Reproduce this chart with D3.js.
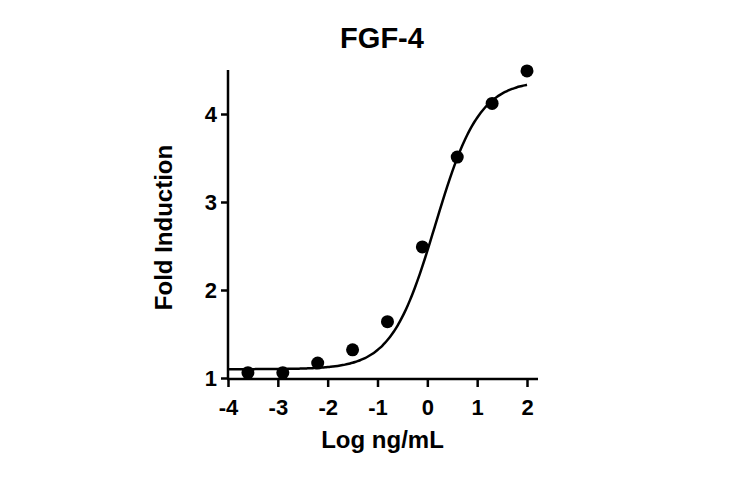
<!DOCTYPE html>
<html>
<head>
<meta charset="utf-8">
<script src="https://cdn.jsdelivr.net/npm/d3@7/dist/d3.min.js"></script>
<style>
  html, body { margin: 0; padding: 0; background: #fff; }
  svg text { font-family: "Liberation Sans", Arial, sans-serif; font-weight: bold; fill: #000; }
  .axis text { font-size: 22px; }
</style>
</head>
<body>
<svg id="chart" width="730" height="478"></svg>
<script>
// Data
const titleText = "FGF-4";
const xLabel = "Log ng/mL";
const yLabel = "Fold Induction";
const logDose = [-3.6, -2.9, -2.2, -1.5, -0.8, -0.1, 0.6, 1.3, 2.0];
const foldInduction = [1.06, 1.06, 1.17, 1.32, 1.64, 2.49, 3.51, 4.12, 4.49];
const xTicks = [-4, -3, -2, -1, 0, 1, 2];
const yTicks = [1, 2, 3, 4];
// 4PL fit parameters (bottom, top, logEC50, hill)
const fitBottom = 1.1, fitTop = 4.38, fitLogEC50 = 0.16, fitHill = 0.99;

const svg = d3.select("#chart");
const x = d3.scaleLinear().domain([-4, 2]).range([228, 527]);
const y = d3.scaleLinear().domain([1, 4.5]).range([378, 70]);

// Title
svg.append("text").attr("x", 382).attr("y", 48).attr("text-anchor", "middle")
  .style("font-size", "29px").text(titleText);

// Y axis
const yAxis = svg.append("g").attr("class", "axis").attr("transform", "translate(228,0)")
  .call(d3.axisLeft(y).tickValues(yTicks).tickFormat(d3.format("d")).tickSize(7).tickPadding(4));
yAxis.select(".domain").attr("d", `M0,${y(4.5)}V${y(1)}`);

// X axis
const xAxis = svg.append("g").attr("class", "axis").attr("transform", "translate(0,379)")
  .call(d3.axisBottom(x).tickValues(xTicks).tickFormat(d => d < 0 ? "-" + Math.abs(d) : d).tickSize(8).tickPadding(12));
xAxis.select(".domain").attr("d", `M${x(-4) - 1},0H538`);

svg.selectAll(".axis").attr("font-size", 22).attr("font-family", '"Liberation Sans", Arial, sans-serif').attr("font-weight", "bold");
svg.selectAll(".domain").attr("stroke", "#000").attr("stroke-width", 2.5);
svg.selectAll(".tick line").attr("stroke", "#000").attr("stroke-width", 2.5);
svg.selectAll(".tick text").attr("fill", "#000");

// Axis titles
svg.append("text").attr("x", 382.5).attr("y", 448).attr("text-anchor", "middle")
  .style("font-size", "24px").text(xLabel);
svg.append("text").attr("transform", "translate(172,227.5) rotate(-90)").attr("text-anchor", "middle")
  .style("font-size", "24px").text(yLabel);

// Fit curve
const fit = v => fitBottom + (fitTop - fitBottom) / (1 + Math.pow(10, (fitLogEC50 - v) * fitHill));
const curveX = d3.range(-4, 2.0001, 0.05);
svg.append("path")
  .datum(curveX)
  .attr("d", d3.line().x(d => x(d)).y(d => y(fit(d))).curve(d3.curveBasis))
  .attr("fill", "none").attr("stroke", "#000").attr("stroke-width", 2.5);

// Points
svg.selectAll("circle.pt").data(logDose.map((d, i) => [d, foldInduction[i]]))
  .enter().append("circle").attr("class", "pt")
  .attr("cx", d => x(d[0])).attr("cy", d => y(d[1])).attr("r", 6.5).attr("fill", "#000");
</script>
</body>
</html>
